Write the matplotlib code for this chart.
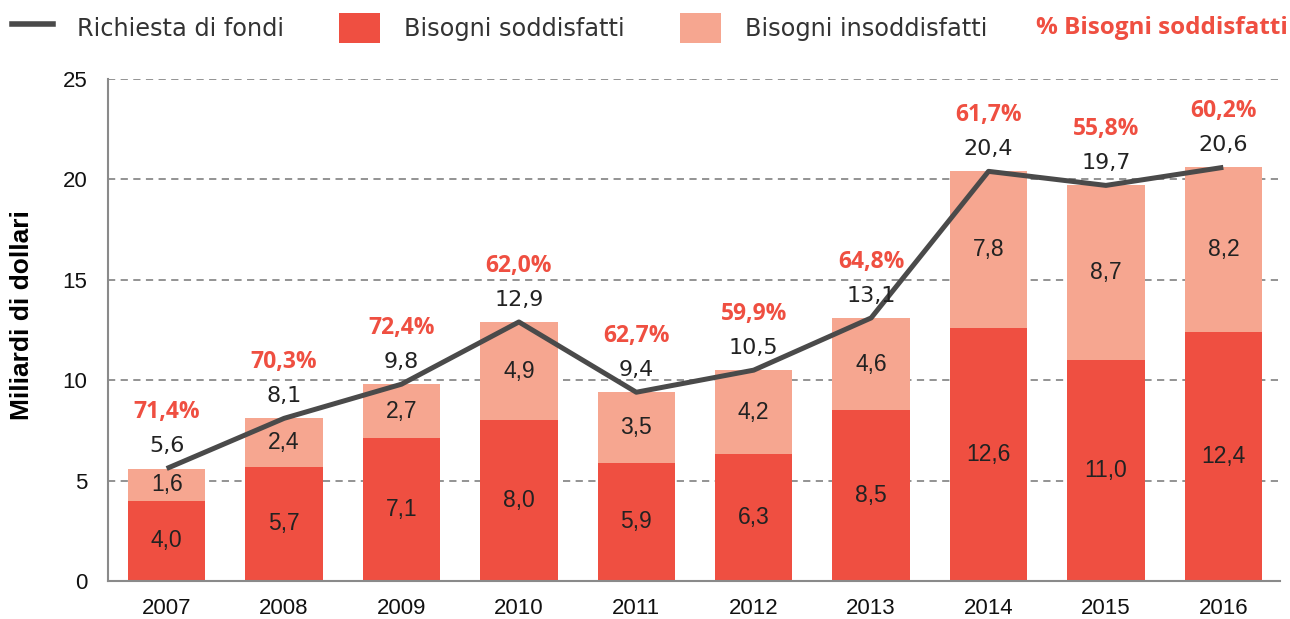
import matplotlib
matplotlib.use("Agg")
import matplotlib.pyplot as plt
from matplotlib.lines import Line2D
from matplotlib.patches import Patch
import numpy as np

years = ["2007", "2008", "2009", "2010", "2011", "2012", "2013", "2014", "2015", "2016"]
met = [4.0, 5.7, 7.1, 8.0, 5.9, 6.3, 8.5, 12.6, 11.0, 12.4]
unmet = [1.6, 2.4, 2.7, 4.9, 3.5, 4.2, 4.6, 7.8, 8.7, 8.2]
requested = [5.6, 8.1, 9.8, 12.9, 9.4, 10.5, 13.1, 20.4, 19.7, 20.6]
pct_met = ["71,4%", "70,3%", "72,4%", "62,0%", "62,7%", "59,9%", "64,8%", "61,7%", "55,8%", "60,2%"]

RED = "#ef4f41"
PINK = "#f6a690"
LINE = "#4a4a4a"
GRID = "#8a8a8a"
TXT = "#222222"
SANS = ["DejaVu Sans"]
BOLD_FONT = ["Open Sans", "DejaVu Sans"]
ARIAL = ["Liberation Sans", "DejaVu Sans"]


def fmt(v):
    return f"{v:.1f}".replace(".", ",")


fig = plt.figure(figsize=(12.9, 6.19), dpi=100)
ax = fig.add_axes([0.0837, 0.0614, 0.9083, 0.811])

x = np.arange(len(years))
w = 0.66
ax.bar(x, met, width=w, color=RED, zorder=2)
ax.bar(x, unmet, width=w, bottom=met, color=PINK, zorder=2)
ax.plot(x, requested, color=LINE, linewidth=3.6, zorder=3, solid_capstyle="butt")

for i in range(len(years)):
    ax.text(x[i], met[i] / 2, fmt(met[i]), ha="center", va="center",
            fontsize=16.5, color=TXT, family=ARIAL, zorder=4)
    ax.text(x[i], met[i] + unmet[i] / 2, fmt(unmet[i]), ha="center", va="center",
            fontsize=16.5, color=TXT, family=ARIAL, zorder=4)
    ax.text(x[i], requested[i] + 1.1, fmt(requested[i]), ha="center", va="center",
            fontsize=16, color=TXT, family=SANS, zorder=4)
    ax.text(x[i], requested[i] + 2.8, pct_met[i], ha="center", va="center",
            fontsize=16.5, color=RED, fontweight="bold", family=BOLD_FONT, zorder=4)

ax.set_xlim(-0.5, 9.48)
ax.set_ylim(0, 25)
ax.set_yticks([0, 5, 10, 15, 20, 25])
ax.set_xticks(x)
ax.set_xticklabels(years)
ax.tick_params(axis="both", length=0, labelsize=16, colors="#111111")
ax.tick_params(axis="y", pad=15)
ax.tick_params(axis="x", pad=12)
for lab in ax.get_xticklabels() + ax.get_yticklabels():
    lab.set_family(ARIAL)

for yv in [5, 10, 15, 20, 25]:
    ax.axhline(yv, color=GRID, linestyle=(0, (4, 3)), linewidth=1.3, zorder=1)

for s in ["top", "right"]:
    ax.spines[s].set_visible(False)
for s in ["left", "bottom"]:
    ax.spines[s].set_color(GRID)
    ax.spines[s].set_linewidth(1.5)

ax.set_ylabel("Miliardi di dollari", fontsize=19, fontweight="bold",
              family=ARIAL, labelpad=20)
ax.yaxis.label.set_y(0.53)

handles = [
    Line2D([0], [0], color=LINE, linewidth=4),
    Patch(facecolor=RED, edgecolor="none"),
    Patch(facecolor=PINK, edgecolor="none"),
]
labels = ["Richiesta di fondi", "Bisogni soddisfatti", "Bisogni insoddisfatti"]
leg = fig.legend(handles, labels, loc="center left", bbox_to_anchor=(0.0093, 0.955),
                 ncol=3, frameon=False, handlelength=1.7,
                 handleheight=1.5, handletextpad=1.0, columnspacing=2.3,
                 borderpad=0, borderaxespad=0, prop={"family": SANS, "size": 17.3})
for t in leg.get_texts():
    t.set_color("#333333")

fig.text(0.998, 0.955, "% Bisogni soddisfatti", ha="right", va="center",
         fontsize=17.5, fontweight="bold", color=RED, family=BOLD_FONT)

fig.savefig("out.png", dpi=100)
